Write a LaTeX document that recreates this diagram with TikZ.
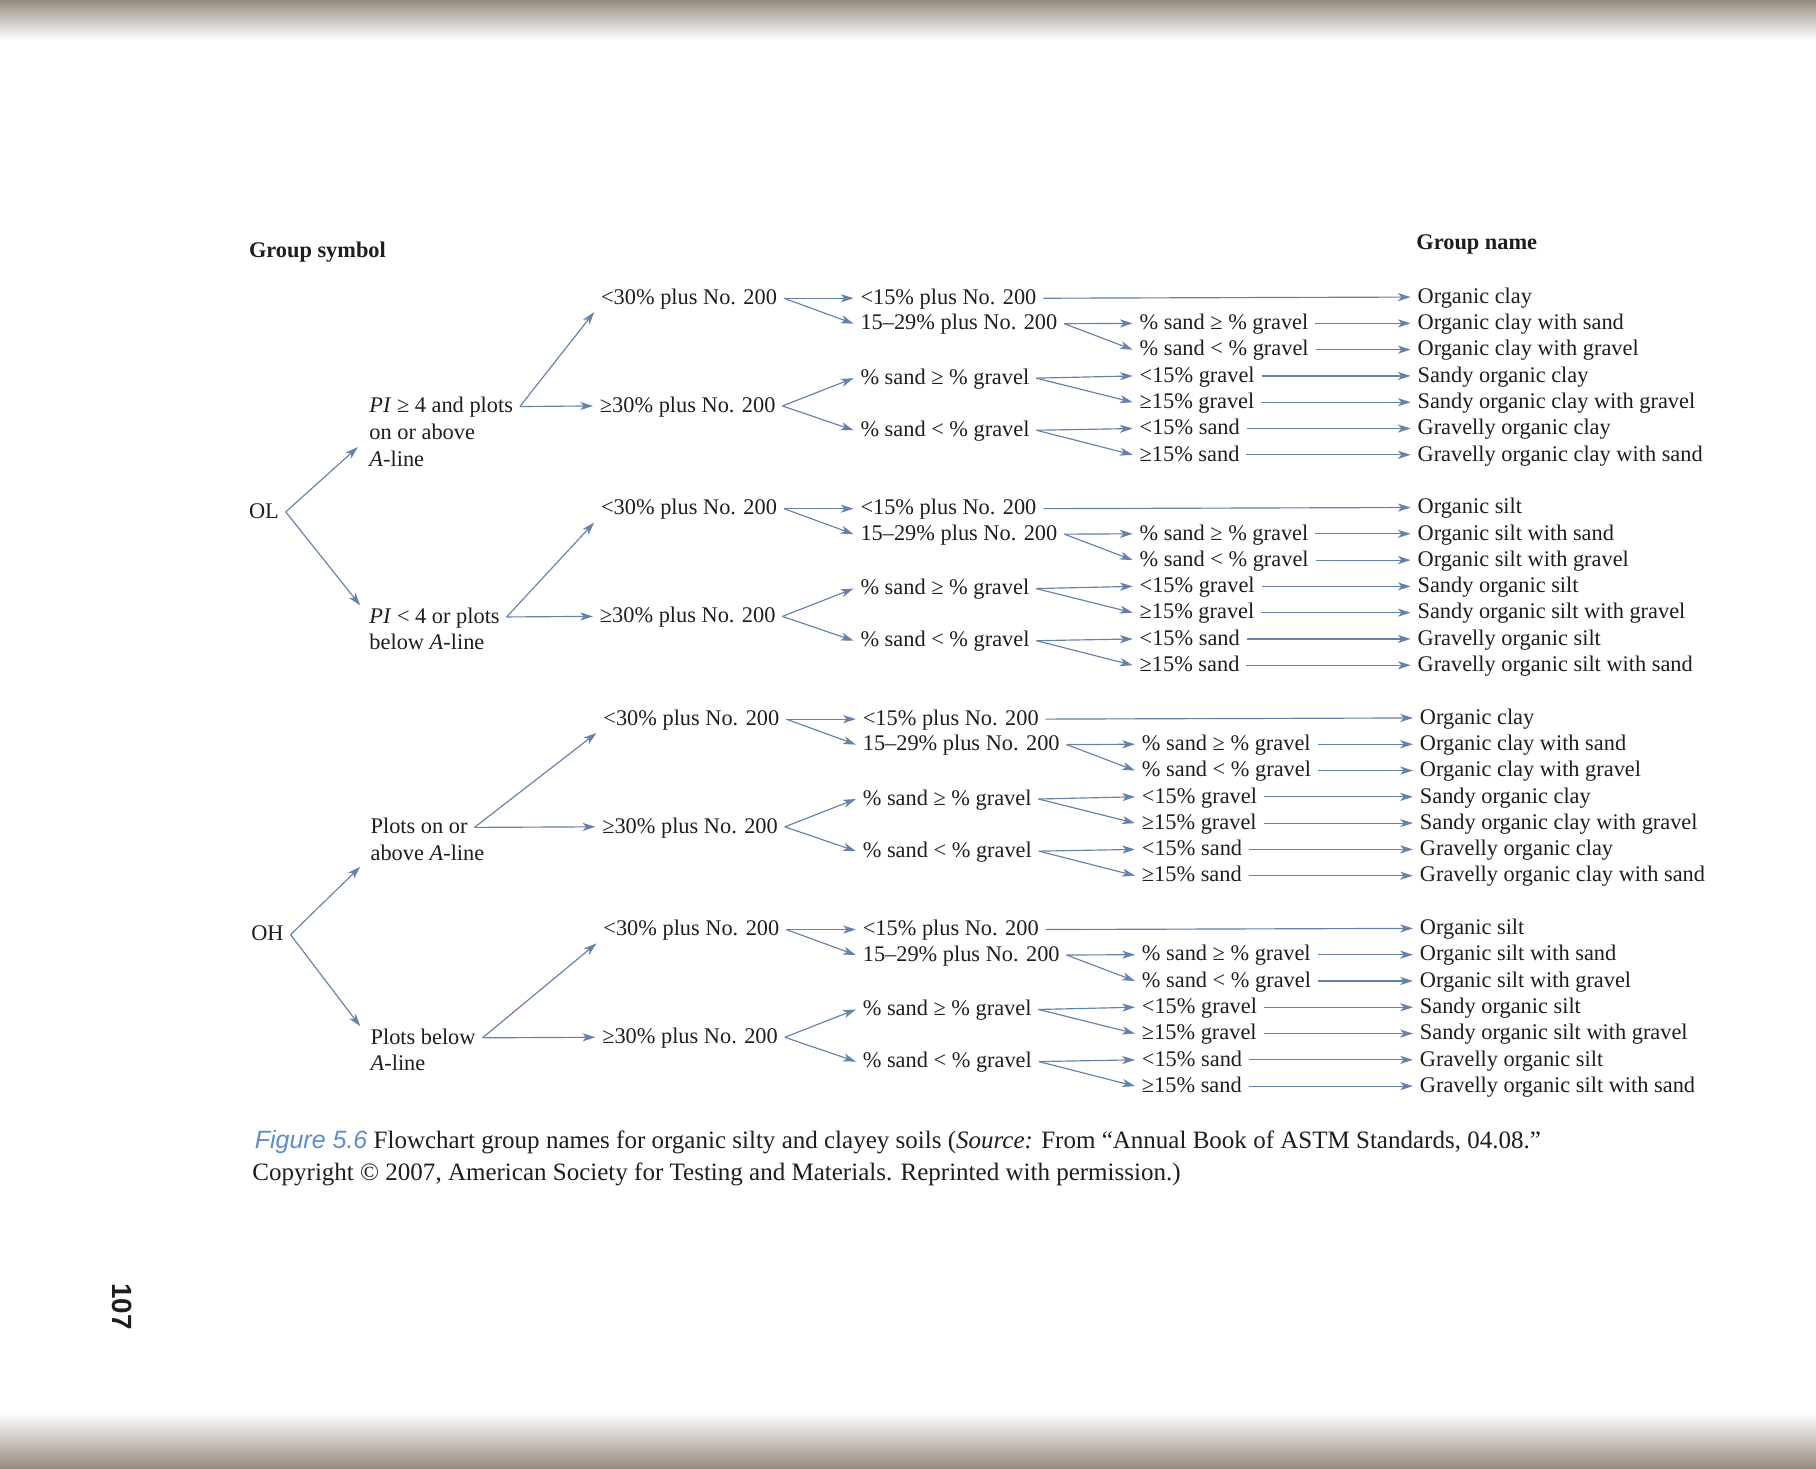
\documentclass[tikz,border=0pt]{standalone}
\usepackage{fontspec}
\setmainfont{Liberation Serif}
\newfontfamily\figfont{Liberation Sans}
\usetikzlibrary{shapes,arrows.meta,positioning}

\definecolor{arrowblue}{RGB}{100,130,170}
\definecolor{inkgray}{RGB}{30,30,30}
\definecolor{figblue}{RGB}{92,142,204}
\definecolor{pagegray}{RGB}{150,138,128}

\tikzset{
  txt/.style={inner sep=0pt, outer xsep=6pt, outer ysep=0pt, anchor=west,
    text height=13pt, text depth=2.2pt, text=inkgray,
    font=\fontsize{19.3}{23}\selectfont},
  capt/.style={txt, text height=14.5pt, text depth=2.5pt,
    font=\fontsize{21.6}{27}\selectfont},
  arr/.style={draw=arrowblue, line width=1pt, -{Stealth[length=11pt,width=7pt,inset=3pt]}},
}

\begin{document}
\begin{tikzpicture}[x=1pt,y=-1pt]
% the scanned page, grey at the top and bottom edge
\fill[white] (0,0) rectangle (1568,1268);
\shade[top color=pagegray, bottom color=white] (0,0) rectangle (1568,34);
\shade[top color=white, bottom color=pagegray] (0,1220) rectangle (1568,1268);
\useasboundingbox (0,0) rectangle (1568,1268);

\node[txt, font=\fontsize{19.3}{23}\selectfont\bfseries] (gsym) at (209,217) {Group symbol};
\node[txt, font=\fontsize{19.3}{23}\selectfont\bfseries] (gname) at (1217,210) {Group name};

% group symbols and the A-line checks
\node[txt] (ol) at (209,442) {OL};
\node[txt] (oh) at (211,807) {OH};
\node[txt] (p1) at (313,351) {\textit{PI} ≥ 4 and plots};
\node[txt, below=7.8pt of p1.south west, anchor=north west] (p1b) {on or above};
\node[txt, below=7.8pt of p1b.south west, anchor=north west] (p1c) {\textit{A}-line};
\node[txt] (p2) at (313,532.7) {\textit{PI} < 4 or plots};
\node[txt, below=7.8pt of p2.south west, anchor=north west] (p2b) {below \textit{A}-line};
\node[txt] (p3) at (314,714.4) {Plots on or};
\node[txt, below=7.8pt of p3.south west, anchor=north west] (p3b) {above \textit{A}-line};
\node[txt] (p4) at (314,896.1) {Plots below};
\node[txt, below=7.8pt of p4.south west, anchor=north west] (p4b) {\textit{A}-line};

\draw[arr] (ol.east) -- ([xshift=-4pt,yshift=-12pt]p1b.west);
\draw[arr] (ol.east) -- ([xshift=-2pt,yshift=10pt]p2.west);
\draw[arr] (oh.east) -- ([xshift=-3pt,yshift=-11pt]p3b.west);
\draw[arr] (oh.east) -- ([xshift=-3pt,yshift=10pt]p4.west);

% one block per A-line check, clay or silt
\foreach \bk/\yy/\dx/\soil in {1/256.5/0/clay, 2/438.2/0/silt, 3/619.9/2/clay, 4/801.6/2/silt}{
  \node[txt] (lt\bk) at (513+\dx,\yy+1) {<30\% plus No. 200};
  \node[txt] (ge\bk) at (512+\dx,\yy+94) {≥30\% plus No. 200};
  \node[txt] (fa\bk) at (737+\dx,\yy+1) {<15\% plus No. 200};
  \node[txt] (fb\bk) at (737+\dx,\yy+23) {15–29\% plus No. 200};
  \node[txt] (sg\bk) at (737+\dx,\yy+70) {\% sand ≥ \% gravel};
  \node[txt] (sl\bk) at (737+\dx,\yy+115) {\% sand < \% gravel};
  % sand / gravel column
  \node[txt] (c1-\bk) at (978+\dx,\yy+22.7) {\% sand ≥ \% gravel};
  \node[txt] (c2-\bk) at (978+\dx,\yy+45.4) {\% sand < \% gravel};
  \node[txt] (c3-\bk) at (978+\dx,\yy+68.1) {<15\% gravel};
  \node[txt] (c4-\bk) at (978+\dx,\yy+90.8) {≥15\% gravel};
  \node[txt] (c5-\bk) at (978+\dx,\yy+113.5) {<15\% sand};
  \node[txt] (c6-\bk) at (978+\dx,\yy+136.2) {≥15\% sand};
  % group names
  \node[txt] (n0-\bk) at (1218+\dx,\yy) {Organic \soil};
  \node[txt] (n1-\bk) at (1218+\dx,\yy+22.7) {Organic \soil{} with sand};
  \node[txt] (n2-\bk) at (1218+\dx,\yy+45.4) {Organic \soil{} with gravel};
  \node[txt] (n3-\bk) at (1218+\dx,\yy+68.1) {Sandy organic \soil};
  \node[txt] (n4-\bk) at (1218+\dx,\yy+90.8) {Sandy organic \soil{} with gravel};
  \node[txt] (n5-\bk) at (1218+\dx,\yy+113.5) {Gravelly organic \soil};
  \node[txt] (n6-\bk) at (1218+\dx,\yy+136.2) {Gravelly organic \soil{} with sand};

  \draw[arr] (p\bk.east) -- ([yshift=-12pt]lt\bk.west);
  \draw[arr] (p\bk.east) -- (ge\bk.west);
  \draw[arr] (lt\bk.east) -- (fa\bk.west);
  \draw[arr] (lt\bk.east) -- (fb\bk.west);
  \draw[arr] (ge\bk.east) -- (sg\bk.west);
  \draw[arr] (ge\bk.east) -- (sl\bk.west);
  \draw[arr] (fa\bk.east) -- (n0-\bk.west);
  \draw[arr] (fb\bk.east) -- (c1-\bk.west);
  \draw[arr] (fb\bk.east) -- (c2-\bk.west);
  \draw[arr] (sg\bk.east) -- (c3-\bk.west);
  \draw[arr] (sg\bk.east) -- (c4-\bk.west);
  \draw[arr] (sl\bk.east) -- (c5-\bk.west);
  \draw[arr] (sl\bk.east) -- (c6-\bk.west);
  \foreach \k in {1,...,6}
    \draw[arr] (c\k-\bk.east) -- (n\k-\bk.west);
}

% caption under the chart
\node[capt] (cap1) at (214,986) {{\figfont\itshape\color{figblue}Figure 5.6} Flowchart group names for organic silty and clayey soils (\textit{Source:} From “Annual Book of ASTM Standards, 04.08.”};
\node[capt] (cap2) at (212,1013) {Copyright © 2007, American Society for Testing and Materials. Reprinted with permission.)};

\node[font=\figfont\bfseries\fontsize{24}{24}\selectfont, rotate=-90, text=inkgray] (pgno) at (105,1128) {107};
\end{tikzpicture}
\end{document}
